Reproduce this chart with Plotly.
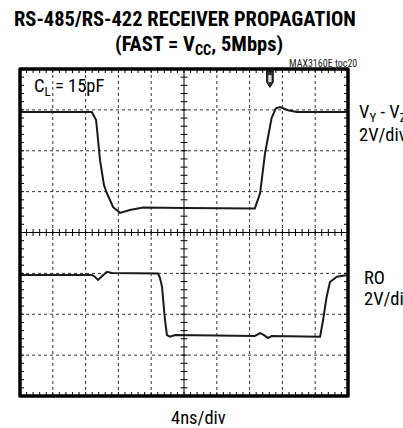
import plotly.graph_objects as go

# time in divisions (4ns/div), voltage in divisions (2V/div)
t_diff = [0, 2.19, 2.32, 2.44, 2.56, 2.65, 2.84, 3.05, 3.35, 3.75, 5.0, 7.16, 7.32, 7.47, 7.67, 7.80, 7.93, 8.17, 8.44, 10]
v_diff = [6.95, 6.95, 6.75, 5.77, 5.16, 4.96, 4.62, 4.48, 4.55, 4.61, 4.60, 4.59, 4.96, 5.94, 6.80, 7.04, 7.07, 6.99, 6.95, 6.95]

t_ro = [0, 2.20, 2.29, 2.38, 2.50, 2.65, 2.80, 4.21, 4.27, 4.33, 4.42, 4.48, 4.57, 4.73, 7.16, 7.32, 7.44, 7.56, 7.68, 9.15, 9.24, 9.35, 9.45, 9.66, 10]
v_ro = [2.96, 2.96, 2.91, 2.84, 2.93, 3.04, 3.01, 3.00, 2.88, 2.67, 1.86, 1.49, 1.45, 1.49, 1.47, 1.54, 1.49, 1.42, 1.47, 1.45, 1.86, 2.43, 2.79, 2.92, 2.96]

X_DIVS = 10
Y_DIVS = 8
SUB = 5  # minor ticks per division

FONT = "Roboto Condensed, DejaVu Sans Condensed, sans-serif"
W, H = 403, 428
L, R, T, B = 20, 55, 69, 32
PW, PH = W - L - R, H - T - B

fig = go.Figure()


def px(v):
    return v / X_DIVS


def py(v):
    return v / Y_DIVS


shapes = []
GRID = dict(color="#333", width=1, dash="dot")
for i in range(1, X_DIVS):
    if i != X_DIVS // 2:
        shapes.append(dict(type="line", xref="paper", yref="paper", x0=px(i), x1=px(i), y0=0, y1=1, line=GRID, layer="below"))
for j in range(1, Y_DIVS):
    if j != Y_DIVS // 2:
        shapes.append(dict(type="line", xref="paper", yref="paper", x0=0, x1=1, y0=py(j), y1=py(j), line=GRID, layer="below"))
# center crosshair
shapes.append(dict(type="line", xref="paper", yref="paper", x0=0.5, x1=0.5, y0=0, y1=1,
                   line=dict(color="black", width=1)))
shapes.append(dict(type="line", xref="paper", yref="paper", x0=0, x1=1, y0=0.5, y1=0.5,
                   line=dict(color="black", width=1)))
TICK = dict(color="black", width=1)
for k in range(X_DIVS * SUB + 1):
    xv = px(k / SUB)
    shapes.append(dict(type="line", xref="paper", yref="paper", ysizemode="pixel", yanchor=0, x0=xv, x1=xv, y0=0, y1=4, line=TICK))
    shapes.append(dict(type="line", xref="paper", yref="paper", ysizemode="pixel", yanchor=1, x0=xv, x1=xv, y0=0, y1=-4, line=TICK))
    shapes.append(dict(type="line", xref="paper", yref="paper", ysizemode="pixel", yanchor=0.5, x0=xv, x1=xv, y0=-3.5, y1=3.5, line=TICK))
for k in range(Y_DIVS * SUB + 1):
    yv = py(k / SUB)
    shapes.append(dict(type="line", xref="paper", yref="paper", xsizemode="pixel", xanchor=0, y0=yv, y1=yv, x0=0, x1=4, line=TICK))
    shapes.append(dict(type="line", xref="paper", yref="paper", xsizemode="pixel", xanchor=1, y0=yv, y1=yv, x0=0, x1=-4, line=TICK))
    shapes.append(dict(type="line", xref="paper", yref="paper", xsizemode="pixel", xanchor=0.5, y0=yv, y1=yv, x0=-3.5, x1=3.5, line=TICK))
# frame
FRAME = dict(color="black", width=3)
shapes.append(dict(type="rect", xref="paper", yref="paper", x0=0, x1=1, y0=0, y1=1, line=FRAME))
for (a0, a1, b0, b1) in [(0, 1, 0, 0), (0, 1, 1, 1), (0, 0, 0, 1), (1, 1, 0, 1)]:
    shapes.append(dict(type="line", xref="paper", yref="paper", x0=a0, x1=a1, y0=b0, y1=b1, line=FRAME))
# trigger marker at top
shapes.append(dict(type="path", xref="x", yref="y",
                   path="M 7.52 7.95 L 7.72 7.95 L 7.72 7.68 L 7.62 7.55 L 7.52 7.68 Z",
                   fillcolor="#333", line=dict(color="black", width=1)))
shapes.append(dict(type="rect", xref="x", yref="y", x0=7.57, x1=7.67, y0=7.68, y1=7.85,
                   fillcolor="#ddd", line=dict(width=0)))

fig.add_trace(go.Scatter(x=t_diff, y=v_diff, mode="lines", line=dict(color="#1a1a1a", width=2), hoverinfo="skip"))
fig.add_trace(go.Scatter(x=t_ro, y=v_ro, mode="lines", line=dict(color="#1a1a1a", width=2), hoverinfo="skip"))

axis_common = dict(showgrid=False, zeroline=False, showticklabels=False, ticks="", showline=False, fixedrange=True)
fig.update_layout(
    width=W, height=H,
    margin=dict(l=L, r=R, t=T, b=B),
    paper_bgcolor="white", plot_bgcolor="white",
    showlegend=False,
    xaxis=dict(range=[0, X_DIVS], **axis_common),
    yaxis=dict(range=[0, Y_DIVS], **axis_common),
    shapes=shapes,
)


def add_text(text, x, y, size, xanchor="left", color="black", bold=False):
    if bold:
        text = "<b>" + text + "</b>"
    fig.add_annotation(text=text, x=(x - L) / PW, y=(H - B - y) / PH, xref="paper", yref="paper",
                       xanchor=xanchor, yanchor="middle", showarrow=False,
                       font=dict(family=FONT, size=size, color=color))


add_text("RS-485/RS-422 RECEIVER PROPAGATION", 185, 19, 20.5, xanchor="center", bold=True)
add_text("(FAST = V<sub>CC</sub>, 5Mbps)", 199, 45, 20.5, xanchor="center", bold=True)
add_text("MAX3160E toc20", 359, 63, 10, xanchor="right", color="#222")
add_text("C<sub>L</sub> = 15pF", 32, 87, 18.5)
add_text("V<sub>Y</sub> - V<sub>Z</sub>", 357, 113, 18.5)
add_text("2V/div", 357, 135, 18.5)
add_text("RO", 362, 278, 18.5)
add_text("2V/div", 362, 299, 18.5)
add_text("4ns/div", 198, 418, 18.5, xanchor="center")

fig.write_html("out.html", config={"displayModeBar": False},
               post_script="document.body.style.margin='0';")
